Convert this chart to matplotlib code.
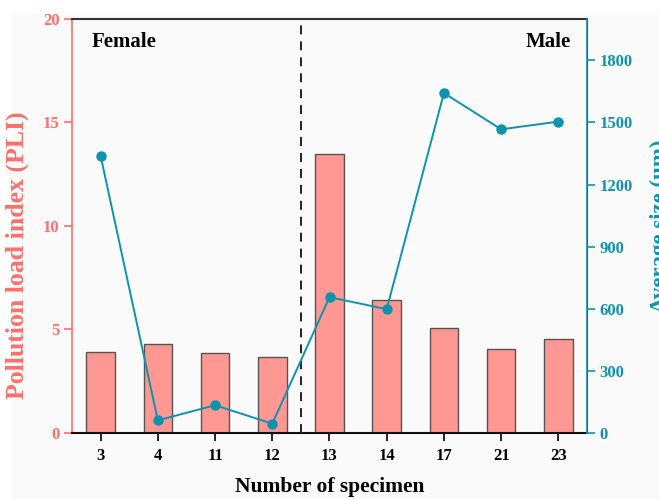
import matplotlib
matplotlib.use("Agg")
import matplotlib.pyplot as plt
from matplotlib.patches import Rectangle

plt.rcParams["font.family"] = ["Liberation Serif", "DejaVu Serif"]
plt.rcParams["font.weight"] = "bold"

specimens = ["3", "4", "11", "12", "13", "14", "17", "21", "23"]
pli = [3.93, 4.31, 3.88, 3.66, 13.48, 6.43, 5.07, 4.07, 4.53]
avg_size = [1338, 61, 134, 45, 656, 598, 1642, 1467, 1504]

bar_color = "#FF9792"
pli_color = "#FF6F6B"
size_color = "#0E93AE"

fig = plt.figure(figsize=(6.59, 4.99), dpi=100, facecolor="white")
fig.patches.append(Rectangle((12 / 659, 0), 1, 1 - 13 / 499, transform=fig.transFigure,
                             facecolor="#FAFAFA", edgecolor="none", zorder=-10))
ax = fig.add_axes([0.1093, 0.1323, 0.7814, 0.8297])
ax.set_facecolor("#FAFAFA")

x = list(range(len(specimens)))
ax.bar(x, pli, width=0.5, color=bar_color, edgecolor="#555555", linewidth=1.0, zorder=2)
ax.axvline(3.5, color="#222222", linestyle=(0, (4.6, 3.6)), linewidth=1.4, zorder=3)

ax.set_xlim(-0.5, 8.5)
ax.set_ylim(0, 20)
ax.set_yticks([0, 5, 10, 15, 20])
ax.set_xticks(x)
ax.set_xticklabels(specimens)
ax.set_xlabel("Number of specimen", fontsize=15.5, fontweight="bold", labelpad=9)
ax.set_ylabel("Pollution load index (PLI)", fontsize=18.5, fontweight="bold", color=pli_color)
ax.yaxis.set_label_coords(-0.083, 0.43)

ax.tick_params(axis="x", direction="out", length=6, width=1.2, labelsize=12, pad=5, colors="black")
ax.tick_params(axis="y", direction="out", length=6, width=1.2, labelsize=12, pad=3,
               colors=pli_color, labelcolor=pli_color)
ax.spines["left"].set_color(pli_color)
ax.spines["left"].set_linewidth(1.2)
ax.spines["bottom"].set_color("#111111")
ax.spines["bottom"].set_linewidth(1.5)
ax.spines["top"].set_color("#333333")
ax.spines["top"].set_linewidth(1.5)

ax2 = ax.twinx()
ax2.plot(x, avg_size, color=size_color, marker="o", markersize=6.5, linewidth=1.4, zorder=4)
ax2.set_ylim(0, 2000)
ax2.set_yticks([0, 300, 600, 900, 1200, 1500, 1800])
ax2.set_ylabel("Average size (um)", fontsize=16.5, fontweight="bold", color=size_color, labelpad=12)
ax2.tick_params(axis="y", direction="out", length=6, width=1.2, labelsize=12, pad=3,
                colors=size_color, labelcolor=size_color)
ax2.spines["right"].set_color(size_color)
ax2.spines["right"].set_linewidth(1.2)
ax2.spines["left"].set_visible(False)
ax2.spines["top"].set_visible(False)
ax2.spines["bottom"].set_visible(False)

ax.text(0.039, 0.968, "Female", transform=ax.transAxes, fontsize=15, fontweight="bold", va="top", ha="left")
ax.text(0.969, 0.968, "Male", transform=ax.transAxes, fontsize=15, fontweight="bold", va="top", ha="right")

fig.savefig("out.png", dpi=100, facecolor=fig.get_facecolor())
plt.close(fig)
